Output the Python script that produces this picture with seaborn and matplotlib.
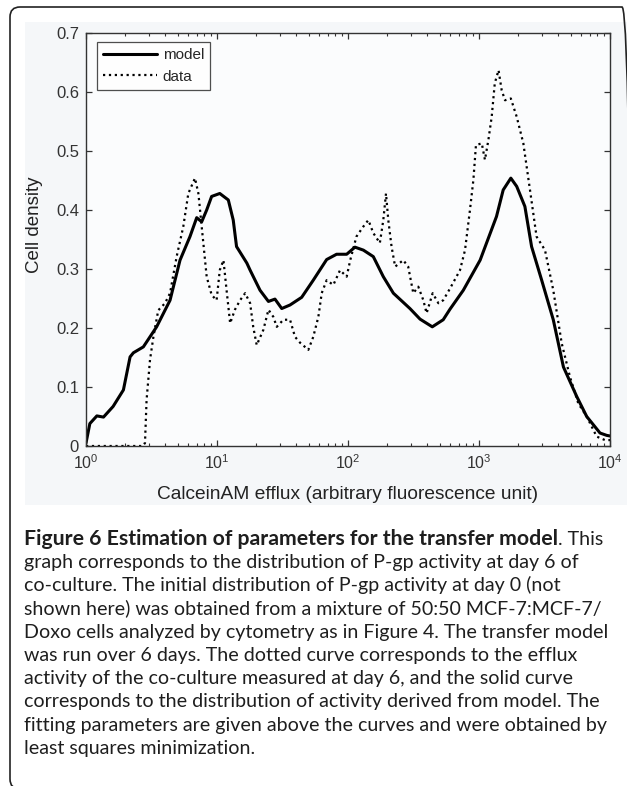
import matplotlib
matplotlib.use("Agg")
import matplotlib.pyplot as plt
import matplotlib.ticker as mticker
from matplotlib.patches import FancyBboxPatch, Rectangle
from matplotlib.transforms import IdentityTransform
import seaborn as sns

# model curve (solid)
model_x = [1.00, 1.07, 1.21, 1.36, 1.61, 1.93, 2.17, 2.30, 2.74, 3.46, 4.38, 5.22,
           6.22, 7.00, 7.64, 8.34, 9.10, 10.5, 12.2, 13.3, 14.1, 16.9, 17.9, 21.3,
           24.7, 27.7, 31.2, 36.1, 44.3, 54.3, 68.7, 81.8, 97.7, 113, 131, 156,
           186, 222, 297, 355, 440, 533, 601, 759, 1020, 1360, 1530, 1750, 1940,
           2240, 2520, 3010, 3690, 4410, 5570, 6640, 8390, 9440, 10000]
model_y = [0.005, 0.038, 0.051, 0.049, 0.067, 0.095, 0.151, 0.158, 0.168, 0.202, 0.247, 0.315,
           0.355, 0.387, 0.380, 0.400, 0.423, 0.428, 0.417, 0.383, 0.338, 0.310, 0.298, 0.264,
           0.245, 0.249, 0.233, 0.239, 0.252, 0.281, 0.316, 0.325, 0.325, 0.337, 0.332, 0.321,
           0.287, 0.259, 0.233, 0.215, 0.202, 0.214, 0.232, 0.264, 0.315, 0.389, 0.434, 0.454, 0.440,
           0.406, 0.338, 0.281, 0.214, 0.134, 0.084, 0.050, 0.022, 0.018, 0.017]

# measured data (dotted)
data_x = [1.00, 2.70, 2.82, 2.90, 3.08, 3.27, 3.56, 4.01, 4.38, 4.92, 5.53, 6.04,
          6.79, 7.21, 7.64, 8.34, 9.10, 9.93, 10.5, 11.2, 11.9, 12.6, 13.7, 15.0,
          16.4, 17.9, 18.9, 20.1, 22.6, 24.7, 26.9, 28.6, 32.1, 36.1, 39.4, 43.1,
          49.8, 54.3, 59.4, 63.0, 68.7, 77.3, 86.9, 97.7, 104, 116, 131, 143,
          156, 175, 186, 195, 203, 215, 229, 264, 288, 315, 344, 376,
          398, 443, 490, 533, 601, 716, 782, 853, 906, 948, 1050, 1110,
          1180, 1250, 1320, 1410, 1490, 1580, 1750, 1940, 2180, 2450, 2750, 3190,
          3690, 4280, 4950, 5730, 6640, 7910, 9160, 10000]
data_y = [0.0, 0.0, 0.005, 0.078, 0.146, 0.185, 0.230, 0.242, 0.259, 0.321, 0.372, 0.428,
          0.454, 0.428, 0.372, 0.287, 0.256, 0.247, 0.298, 0.315, 0.259, 0.208, 0.231, 0.247,
          0.259, 0.242, 0.202, 0.171, 0.197, 0.231, 0.219, 0.202, 0.214, 0.214, 0.185, 0.175,
          0.163, 0.185, 0.219, 0.259, 0.281, 0.273, 0.298, 0.287, 0.315, 0.355, 0.372, 0.383,
          0.361, 0.344, 0.383, 0.428, 0.383, 0.338, 0.304, 0.315, 0.304, 0.259, 0.270, 0.247,
          0.225, 0.259, 0.242, 0.247, 0.267, 0.298, 0.332, 0.400, 0.451, 0.510, 0.513, 0.485,
          0.519, 0.558, 0.615, 0.637, 0.603, 0.586, 0.589, 0.558, 0.513, 0.434, 0.355, 0.332,
          0.264, 0.174, 0.117, 0.072, 0.050, 0.016, 0.010, 0.010]

y_ticks = [0, 0.1, 0.2, 0.3, 0.4, 0.5, 0.6, 0.7]
y_tick_labels = ["0", "0.1", "0.2", "0.3", "0.4", "0.5", "0.6", "0.7"]

caption_bold = "Figure 6 Estimation of parameters for the transfer model"
caption_first_rest = ". This"
caption_lines = [
    "graph corresponds to the distribution of P-gp activity at day 6 of",
    "co-culture. The initial distribution of P-gp activity at day 0 (not",
    "shown here) was obtained from a mixture of 50:50 MCF-7:MCF-7/",
    "Doxo cells analyzed by cytometry as in Figure 4. The transfer model",
    "was run over 6 days. The dotted curve corresponds to the efflux",
    "activity of the co-culture measured at day 6, and the solid curve",
    "corresponds to the distribution of activity derived from model. The",
    "fitting parameters are given above the curves and were obtained by",
    "least squares minimization.",
]

sns.set_style("ticks")
plt.rcParams["font.family"] = ["Liberation Sans", "DejaVu Sans"]

W, H = 627, 786
fig = plt.figure(figsize=(W / 100, H / 100), dpi=100)
fig.patch.set_facecolor("white")

# light background of the embedded chart image
fig.patches.append(Rectangle((25, H - 505), 602, 483, transform=IdentityTransform(),
                             facecolor="#f5f7f9", edgecolor="none", zorder=-5))
# rounded frame around the figure panel (runs off the right and bottom edges)
fig.patches.append(FancyBboxPatch((10, -3), 622, H - 4, boxstyle="round,pad=0,rounding_size=10",
                                  transform=IdentityTransform(), facecolor="none",
                                  edgecolor="#222222", linewidth=1.2, zorder=5))

ax = fig.add_axes([86 / W, 1 - 446 / H, 524 / W, 413 / H])
ax.set_zorder(1)
ax.set_facecolor("#fbfcfd")

sns.lineplot(x=model_x, y=model_y, ax=ax, color="black", linewidth=2.2, label="model")
sns.lineplot(x=data_x, y=data_y, ax=ax, color="black", linewidth=1.6, linestyle=":", label="data")

ax.set_xscale("log")
ax.set_xlim(1, 1e4)
ax.set_ylim(0, 0.7)
ax.set_yticks(y_ticks)
ax.set_yticklabels(y_tick_labels)
ax.xaxis.set_major_locator(mticker.LogLocator(base=10, numticks=10))
ax.xaxis.set_minor_locator(mticker.LogLocator(base=10, subs=range(2, 10), numticks=50))
ax.xaxis.set_minor_formatter(mticker.NullFormatter())

for s in ax.spines.values():
    s.set_visible(True)
    s.set_color("#333333")
    s.set_linewidth(1.0)
ax.tick_params(which="both", direction="in", top=True, right=True, colors="#333333",
               labelcolor="#333333")
ax.tick_params(which="major", length=4.5, width=0.9, pad=5)
ax.tick_params(which="minor", length=2.5, width=0.8)
ax.tick_params(axis="y", labelsize=12)
ax.tick_params(axis="x", labelsize=11.5)

ax.set_xlabel("CalceinAM efflux (arbitrary fluorescence unit)", fontsize=13.8, color="#222222")
ax.xaxis.set_label_coords(0.5, -0.097)
ax.set_ylabel("Cell density", fontsize=13.5, color="#222222")
ax.yaxis.set_label_coords(-0.082, 0.535)

leg = ax.legend(loc="upper left", bbox_to_anchor=(0.021, 0.978), borderaxespad=0,
                fontsize=11, frameon=True, fancybox=False, edgecolor="#222222",
                handlelength=3.5, handletextpad=0.4, labelspacing=0.5, borderpad=0.4)
leg.get_frame().set_linewidth(0.9)
leg.get_frame().set_facecolor("white")

# caption
cap_font = ["Lato", "DejaVu Sans"]
cap_size = 14.1
x0 = 24 / W
y_first = 1 - 545 / H
step = 23.2 / H
tb = fig.text(x0, y_first, caption_bold, fontsize=15.3, fontweight="bold",
              family=cap_font, color="#1e1e1e", va="baseline")
fig.canvas.draw()
bb = tb.get_window_extent()
fig.text(bb.x1 / W, y_first, caption_first_rest, fontsize=cap_size, family=cap_font,
         color="#1e1e1e", va="baseline")
for i, line in enumerate(caption_lines):
    fig.text(x0, y_first - step * (i + 1), line, fontsize=cap_size, family=cap_font,
             color="#1e1e1e", va="baseline")

fig.savefig("out.png", dpi=100)
